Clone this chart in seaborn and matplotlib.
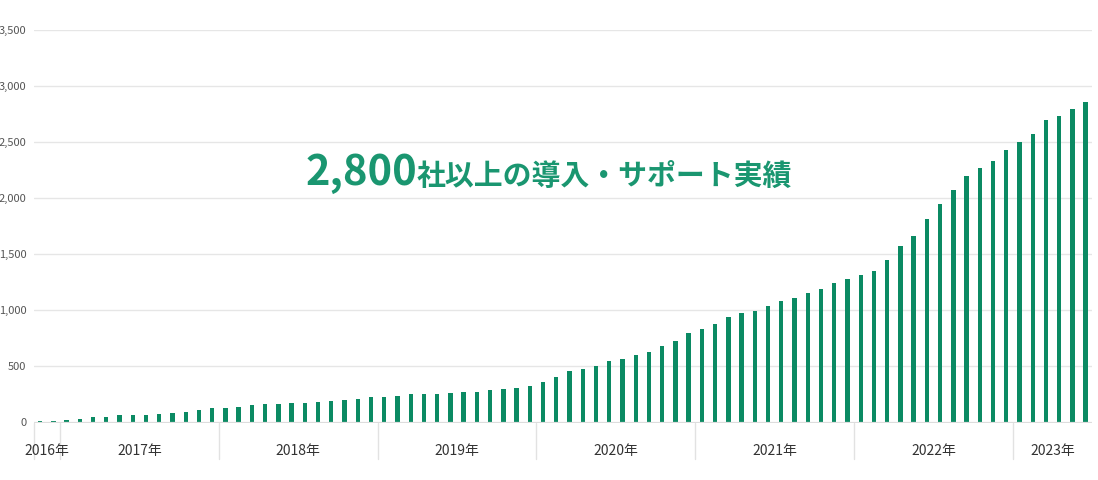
import matplotlib
matplotlib.use("Agg")
import matplotlib.pyplot as plt
import matplotlib.transforms as mtransforms
import seaborn as sns
import pandas as pd

# Monthly cumulative number of client companies
years = ["2016年", "2017年", "2018年", "2019年", "2020年", "2021年", "2022年", "2023年"]
months_per_year = [2, 12, 12, 12, 12, 12, 12, 6]
first_month = [11, 1, 1, 1, 1, 1, 1, 1]

companies = [
    10, 10,
    18, 27, 45, 53, 65, 65, 65, 74, 89, 98, 110, 125,
    125, 134, 160, 169, 169, 178, 178, 187, 196, 205, 214, 223,
    225, 235, 252, 252, 252, 261, 270, 270, 288, 297, 306, 324,
    359, 404, 457, 475, 502, 546, 564, 600, 627, 680, 725, 796,
    832, 877, 938, 975, 993, 1039, 1083, 1110, 1155, 1190, 1244, 1280,
    1315, 1351, 1449, 1574, 1663, 1815, 1949, 2074, 2199, 2271, 2333, 2431,
    2503, 2574, 2699, 2735, 2797, 2860,
]

y_ticks = [0, 500, 1000, 1500, 2000, 2500, 3000, 3500]
headline_num = "2,800"
headline_text = "社以上の導入・サポート実績"

month_labels = []
for yr, n, m0 in zip(years, months_per_year, first_month):
    for k in range(n):
        month_labels.append(f"{yr[:4]}-{m0 + k:02d}")

df = pd.DataFrame({"month": month_labels, "companies": companies})

sns.set_theme(style="white")
plt.rcParams["font.family"] = ["Noto Sans CJK JP", "DejaVu Sans"]

green = "#0b8a63"
fig = plt.figure(figsize=(10.98, 4.8), dpi=100)
ax = fig.add_axes([33.5 / 1098, 57.5 / 480, (1092.3 - 33.5) / 1098, 392.5 / 480])

sns.barplot(data=df, x="month", y="companies", color=green, width=0.33,
            saturation=1, ax=ax, zorder=3, linewidth=0)

ax.set_xlim(-0.5, len(companies) - 0.5)
ax.set_ylim(0, 3500)
ax.set_yticks(y_ticks)
ax.set_yticklabels([f"{v:,}" for v in y_ticks], fontsize=8, color="#555555")
ax.tick_params(axis="y", length=0, pad=5)
ax.set_xticks([])
ax.set_xlabel("")
ax.set_ylabel("")
for s in ax.spines.values():
    s.set_visible(False)
ax.grid(axis="y", color="#e6e6e6", linewidth=1, zorder=0)
ax.axhline(0, color="#dddddd", linewidth=1.6, zorder=4)

# year separators and labels under the axis
trans = mtransforms.blended_transform_factory(ax.transData, ax.transAxes)
start = -0.5
for yr, n in zip(years, months_per_year):
    ax.plot([start, start], [0, -0.093], transform=trans, color="#e2e2e2",
            linewidth=1, clip_on=False)
    ax.text(start + n / 2, -0.073, yr, transform=trans, ha="center", va="center",
            fontsize=10, color="#333333")
    start += n

# headline
title_green = "#1a9670"
fig.text(306 / 1098, (480 - 184.5) / 480, headline_num, ha="left", va="baseline",
         fontsize=30, fontweight="bold", color=title_green)
fig.text(417 / 1098, (480 - 184.5) / 480, headline_text, ha="left", va="baseline",
         fontsize=20.8, fontweight="bold", color=title_green)

fig.savefig("out.png", dpi=100)
